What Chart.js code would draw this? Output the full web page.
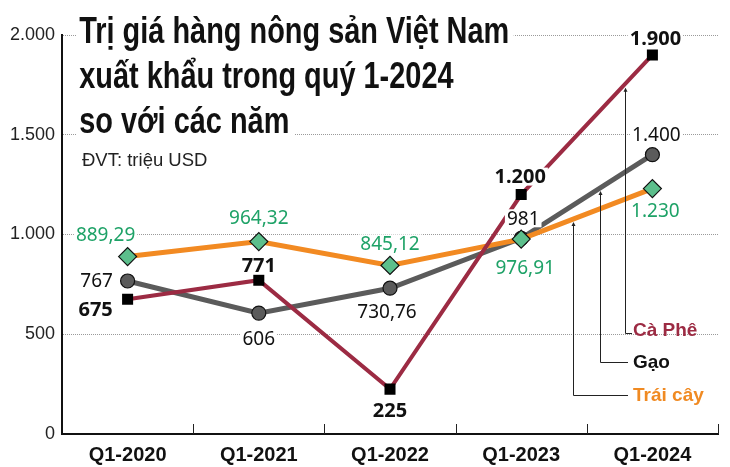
<!DOCTYPE html>
<html><head><meta charset="utf-8">
<script src="https://cdn.jsdelivr.net/npm/chart.js@4.4.1/dist/chart.umd.min.js"></script>
<style>
html,body{margin:0;padding:0;background:#fff;}
#wrap{position:relative;width:730px;height:467px;overflow:hidden;}
#c{position:absolute;left:0;top:0;}
#title{position:absolute;left:76px;top:8px;font-family:"Liberation Sans Narrow","Liberation Sans",sans-serif;font-weight:bold;font-size:36px;line-height:45px;color:#111;transform-origin:0 0;white-space:nowrap;}
#title span{background:#fff;padding:0 6px 0 4px;}
#unit{position:absolute;left:82px;top:149px;font-family:"Liberation Sans",Arial,sans-serif;font-size:18.5px;color:#222;white-space:nowrap;}
</style></head>
<body>
<div id="wrap">
<canvas id="c" width="730" height="467"></canvas>
<div id="title"><div><span id="t1">Trị giá hàng nông sản Việt Nam</span></div><div><span>xuất khẩu trong quý 1-2024</span></div><div><span>so với các năm</span></div></div>
<div id="unit">ĐVT: triệu USD</div>
</div>
<script>
const categories = ['Q1-2020','Q1-2021','Q1-2022','Q1-2023','Q1-2024'];
const caPhe   = [675, 771, 225, 1200, 1900];
const gao     = [767, 606, 730.76, 981, 1400];
const traiCay = [889.29, 964.32, 845.12, 976.91, 1230];
const yTickValues = [0, 500, 1000, 1500, 2000];
const seriesNames = ['Cà Phê', 'Gạo', 'Trái cây'];

function fmtVN(v){
  let parts = Math.abs(v).toFixed(2).split('.');
  let d = parts[1].replace(/0+$/,'');
  let i = parts[0].replace(/\B(?=(\d{3})+(?!\d))/g,'.');
  return (v<0?'-':'') + i + (d ? ','+d : '');
}

// label placement offsets (dx, dy from point), per series
const labelOffsets = {
  'Cà Phê':  [[-32,10],[0,-15],[0,21],[-1,-18],[3,-17]],
  'Gạo':     [[-31,0],[0,25],[-3,23],[2,-20],[4,-20]],
  'Trái cây':[[-22,-22],[0,-24],[0,-22],[4,28],[3,22]]
};
const labelStyles = {
  'Cà Phê':  {font:'bold 20px "Noto Sans", sans-serif', color:'#111'},
  'Gạo':     {font:'19px "Noto Sans", sans-serif', color:'#111'},
  'Trái cây':{font:'19px "Noto Sans", sans-serif', color:'#1ea267'}
};
// leader lines: fraction between Q1-2023 and Q1-2024, elbow y, end x, text x, text baseline
const leaders = {
  'Cà Phê':  {t:0.794, tipGap:5, y:333, x2:632, tx:633, ty:336, color:'#9c2b43'},
  'Gạo':     {t:0.603, tipGap:4, y:362, x2:628, tx:633, ty:368, color:'#111'},
  'Trái cây':{t:0.397, tipGap:4, y:395, x2:628, tx:633, ty:401, color:'#f08a22'}
};

const overlayPlugin = {
  id:'overlay',
  afterDatasetsDraw(chart){
    const ctx = chart.ctx;
    const xs = chart.scales.x, ca = chart.chartArea;
    ctx.save();
    // x-axis tick marks pointing up
    ctx.strokeStyle = '#222'; ctx.lineWidth = 1;
    const n = categories.length;
    for(let i=0;i<n;i++){
      let x = i<n-1 ? (xs.getPixelForValue(i)+xs.getPixelForValue(i+1))/2 : ca.right;
      x = Math.round(x)+0.5;
      ctx.beginPath(); ctx.moveTo(x, ca.bottom); ctx.lineTo(x, ca.bottom-10); ctx.stroke();
    }
    // leader lines & legend text
    chart.data.datasets.forEach((ds, di) => {
      const L = leaders[ds.label];
      const meta = chart.getDatasetMeta(di);
      const p0 = meta.data[3], p1 = meta.data[4];
      const x = Math.round(p0.x + (p1.x - p0.x)*L.t) + 0.5;
      const yTop = p0.y + (p1.y - p0.y)*L.t + L.tipGap;
      ctx.strokeStyle = '#222'; ctx.lineWidth = 1;
      ctx.beginPath(); ctx.moveTo(x, yTop); ctx.lineTo(x, L.y+0.5); ctx.lineTo(L.x2, L.y+0.5); ctx.stroke();
      ctx.fillStyle = '#222';
      ctx.beginPath(); ctx.moveTo(x, yTop-1); ctx.lineTo(x-2, yTop+3); ctx.lineTo(x+2, yTop+3); ctx.closePath(); ctx.fill();
      ctx.font = 'bold 19px "Liberation Sans", Arial, sans-serif';
      ctx.fillStyle = L.color; ctx.textAlign = 'left'; ctx.textBaseline = 'alphabetic';
      ctx.fillText(ds.label, L.tx, L.ty);
    });
    // data labels with white background
    chart.data.datasets.forEach((ds, di) => {
      const meta = chart.getDatasetMeta(di);
      const offs = labelOffsets[ds.label], st = labelStyles[ds.label];
      ctx.font = st.font; ctx.textAlign = 'center'; ctx.textBaseline = 'middle';
      meta.data.forEach((pt, i) => {
        const txt = fmtVN(ds.data[i]);
        const x = pt.x + offs[i][0], y = pt.y + offs[i][1];
        const w = ctx.measureText(txt).width;
        ctx.fillStyle = '#fff';
        ctx.fillRect(x - w/2 - 2, y - 9, w + 4, 18);
        ctx.fillStyle = st.color;
        ctx.fillText(txt, x, y + 1);
      });
    });
    ctx.restore();
  }
};

new Chart(document.getElementById('c'), {
  type:'line',
  data:{
    labels: categories,
    datasets:[
      {label:seriesNames[1], data:gao, borderColor:'#5b5b5b', borderWidth:5, pointStyle:'circle', pointRadius:7, pointHoverRadius:7,
       pointBackgroundColor:'#5b5b5b', pointBorderColor:'#111', pointBorderWidth:1.2, order:3, tension:0},
      {label:seriesNames[2], data:traiCay, borderColor:'#f28a22', borderWidth:5, pointStyle:'rectRot', pointRadius:9, pointHoverRadius:9,
       pointBackgroundColor:'#5cbf8c', pointBorderColor:'#111', pointBorderWidth:1.2, order:2, tension:0},
      {label:seriesNames[0], data:caPhe, borderColor:'#9c2b43', borderWidth:4, pointStyle:'rect', pointRadius:7.8, pointHoverRadius:7.8,
       pointBackgroundColor:'#000', pointBorderColor:'#000', pointBorderWidth:0, order:1, tension:0}
    ]
  },
  options:{
    responsive:false, animation:false, devicePixelRatio:1,
    layout:{padding:{top:35,right:12,left:0,bottom:0}},
    plugins:{legend:{display:false}, title:{display:false}, tooltip:{enabled:false}},
    events:[],
    scales:{
      x:{
        offset:true,
        grid:{display:false, drawTicks:false},
        border:{display:true, color:'#111', width:2},
        ticks:{font:{family:'"Liberation Sans", Arial, sans-serif', weight:'bold', size:20}, color:'#111', padding:9, maxRotation:0},
        afterFit(s){ s.height = 33; }
      },
      y:{
        min:0, max:2000,
        afterBuildTicks(s){ s.ticks = yTickValues.map(v => ({value:v})); },
        ticks:{callback:v => fmtVN(v), font:{family:'"Liberation Sans", Arial, sans-serif', size:18}, color:'#222', padding:7},
        grid:{color:c => c.tick && c.tick.value === 0 ? 'rgba(0,0,0,0)' : '#9a9a9a', lineWidth:1, drawTicks:false},
        border:{display:true, color:'#111', width:2, dash:[1,1]},
        afterFit(s){ s.width = 62; }
      }
    }
  },
  plugins:[overlayPlugin]
});

// fit title width to reference
(function(){
  const t1 = document.getElementById('t1');
  const w = t1.getBoundingClientRect().width - 10;
  const target = 430;
  const s = target / w;
  document.getElementById('title').style.transform = 'scaleX(' + s + ')';
})();
</script>
</body></html>
